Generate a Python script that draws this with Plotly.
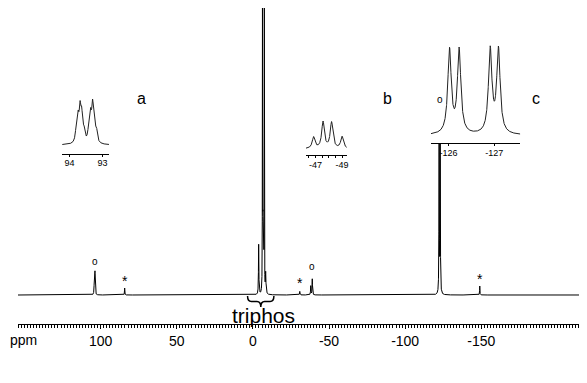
import numpy as np
import plotly.graph_objects as go

# ---------------- data ----------------
# main 31P spectrum: line positions (ppm, as drawn against the axis), heights (a.u.), half-widths (ppm)
main_ppm    = [104.1, 103.7, 84.2, -3.8, -6.3, -6.6, -7.0, -7.5, -8.4, -30.8, -38.0, -39.0, -122.3, -123.0, -149.0]
main_height = [21.5,  21.5,  7.0,  50.0, 280.0, 56.0, 58.0, 280.0, 20.0,  3.6,   9.0,  16.0,  183.0,  183.0,   9.0]
main_hw     = [0.15,  0.15,  0.12, 0.15, 0.08,  0.15, 0.15, 0.08,  0.2,   0.15,  0.15,  0.15,  0.12,   0.12,    0.12]

# markers: circles (o) and stars (*) over peaks
circle_ppm = [103.9, -39.0, -122.6]
circle_h   = [34.0, 29.0, 196.0]
star_ppm   = [84.2, -30.8, -149.0]
star_h     = [14.0, 12.5, 16.0]

main_tickvals = [100, 50, 0, -50, -100, -150]
main_ticktext = ["100", "50", "0", "-50", "-100", "-150"]

# inset a (93.5 ppm multiplet)
a_ppm = [93.80, 93.74, 93.68, 93.63, 93.56, 93.42, 93.36, 93.30, 93.25, 93.18]
a_int = [0.30, 0.65, 0.85, 0.70, 0.30, 0.30, 0.70, 0.90, 0.65, 0.30]
a_hw = 0.032
a_ticks = [94, 93]
a_ticktext = ["94", "93"]

# inset b (-48 ppm multiplet)
b_ppm = [-46.86, -47.57, -48.21, -49.0]
b_int = [0.43, 1.0, 0.98, 0.45]
b_hw = 0.12
b_ticks = [-46.5, -47, -47.5, -48, -48.5, -49]
b_ticktext = ["", "-47", "", "", "", "-49"]

# inset c (-126.5 ppm multiplet)
c_ppm = [-126.02, -126.23, -126.91, -127.09]
c_int = [1.0, 1.0, 1.0, 1.0]
c_hw = 0.045
c_ticks = [-126, -127]
c_ticktext = ["-126", "-127"]


def lorentz(x, centers, heights, hws):
    y = np.zeros_like(x)
    for c, h, w in zip(centers, heights, hws):
        y += h * w**2 / ((x - c)**2 + w**2)
    return y


FONT = "Liberation Sans, Arial, sans-serif"

W, H = 587, 383
L = 10
AXIS_Y = 316          # pixel row of main axis line
BASE = 287            # pixel row of spectrum baseline
PW, PH = W - L, AXIS_Y
B = H - AXIS_Y


def dx(px):
    return (px - L) / PW


def dy(py):
    return (PH - py) / PH


PPM_PX = 1.528
ZERO_PX = 245.7
x_left = (ZERO_PX - L) / PPM_PX
x_right = -(W - ZERO_PX) / PPM_PX
y_lo = -(AXIS_Y - BASE)
y_hi = BASE

x_main = np.linspace(x_left, x_right, 60000)
y_main = lorentz(x_main, main_ppm, main_height, main_hw)

fig = go.Figure()
fig.add_trace(go.Scatter(x=x_main, y=y_main, mode="lines",
                         line=dict(color="black", width=1), hoverinfo="skip"))

xa = np.linspace(94.225, 92.8, 1500)
ya = lorentz(xa, a_ppm, a_int, [a_hw] * len(a_ppm))
ya = ya / ya.max()
xb = np.linspace(-46.29, -49.36, 1500)
yb = lorentz(xb, b_ppm, b_int, [b_hw] * len(b_ppm))
yb = yb / yb.max()
xc = np.linspace(-125.614, -127.568, 1500)
yc = lorentz(xc, c_ppm, c_int, [c_hw] * len(c_ppm))
yc = yc / yc.max()

for xs, ys, xa_, ya_ in [(xa, ya, "x2", "y2"), (xb, yb, "x3", "y3"), (xc, yc, "x4", "y4")]:
    fig.add_trace(go.Scatter(x=xs, y=ys, xaxis=xa_, yaxis=ya_, mode="lines",
                             line=dict(color="#222", width=1), hoverinfo="skip"))

inset_axis = dict(showline=True, linecolor="black", linewidth=1, ticks="outside",
                  ticklen=2, tickwidth=1, tickcolor="black", showgrid=False, zeroline=False,
                  ticklabelstandoff=-1,
                  tickfont=dict(family=FONT, size=9, color="black"), tickmode="array")
inset_y = dict(visible=False, showgrid=False, zeroline=False)


def inset_y_axis(axis_px, base_px, top_px, dom_top_px, anchor):
    unit = base_px - top_px
    lo = -(axis_px - base_px) / unit
    hi = (base_px - dom_top_px) / unit
    return dict(inset_y, domain=[dy(axis_px), dy(dom_top_px)], range=[lo, hi], anchor=anchor)


fig.update_layout(
    width=W, height=H,
    margin=dict(l=L, r=0, t=0, b=B),
    paper_bgcolor="white", plot_bgcolor="white",
    showlegend=False,
    xaxis=dict(range=[x_left, x_right], showline=True, linecolor="black", linewidth=1,
               ticks="outside", ticklen=4, tickwidth=1, tickcolor="black",
               tickmode="array", tickvals=main_tickvals, ticktext=main_ticktext,
               tickfont=dict(family=FONT, size=14, color="black"),
               showgrid=False, zeroline=False,
               minor=dict(tickmode="linear", tick0=0, dtick=2, ticks="outside",
                          ticklen=2.5, tickwidth=1, tickcolor="black", showgrid=False)),
    yaxis=dict(range=[y_lo, y_hi], visible=False, showgrid=False, zeroline=False),
    xaxis2=dict(inset_axis, domain=[dx(54.3), dx(101.3)], range=[94.225, 92.8],
                anchor="y2", tickvals=a_ticks, ticktext=a_ticktext),
    yaxis2=inset_y_axis(145.5, 137, 91, 89, "x2"),
    xaxis3=dict(inset_axis, domain=[dx(299), dx(340)], range=[-46.29, -49.36],
                anchor="y3", tickvals=b_ticks, ticktext=b_ticktext),
    yaxis3=inset_y_axis(147.3, 141, 113, 111, "x3"),
    xaxis4=dict(inset_axis, domain=[dx(424.4), dx(514)], range=[-125.614, -127.568],
                anchor="y4", tickvals=c_ticks, ticktext=c_ticktext),
    yaxis4=inset_y_axis(135.3, 127.3, 37.8, 35, "x4"),
)

ann = []
for p, h in zip(circle_ppm, circle_h):
    ann.append(dict(x=p, y=h, xref="x", yref="y", text="o", showarrow=False,
                    font=dict(family=FONT, size=10, color="black")))
for p, h in zip(star_ppm, star_h):
    ann.append(dict(x=p, y=h, xref="x", yref="y", text="*", showarrow=False,
                    font=dict(family=FONT, size=14, color="black")))
ann.append(dict(x=-6.9, y=-20, xref="x", yref="y", text="triphos", showarrow=False,
                font=dict(family=FONT, size=21, color="black")))
ann.append(dict(x=dx(0), y=dy(AXIS_Y + 16), xref="paper", yref="paper", text="ppm",
                xanchor="left", yanchor="middle",
                showarrow=False, font=dict(family=FONT, size=14, color="black")))
for lab, (px, py) in zip(["a", "b", "c"], [(127, 80), (381, 80), (536, 80)]):
    ann.append(dict(x=dx(px), y=dy(py), xref="paper", yref="paper", text=lab,
                    showarrow=False, font=dict(family=FONT, size=16, color="black")))
fig.update_layout(annotations=ann)

# curly brace under the triphos signals
x1, xm, x2 = 3.5, -5.2, -13.8
d = 2.5
path = (f"M {x1},-1 Q {x1},-6.5 {x1 - d},-6.5 L {xm + d},-6.5 Q {xm},-6.5 {xm},-12 "
        f"Q {xm},-6.5 {xm - d},-6.5 L {x2 + d},-6.5 Q {x2},-6.5 {x2},-1")
fig.add_shape(type="path", path=path, xref="x", yref="y",
              line=dict(color="black", width=1.5))

fig.write_html("out.html")
